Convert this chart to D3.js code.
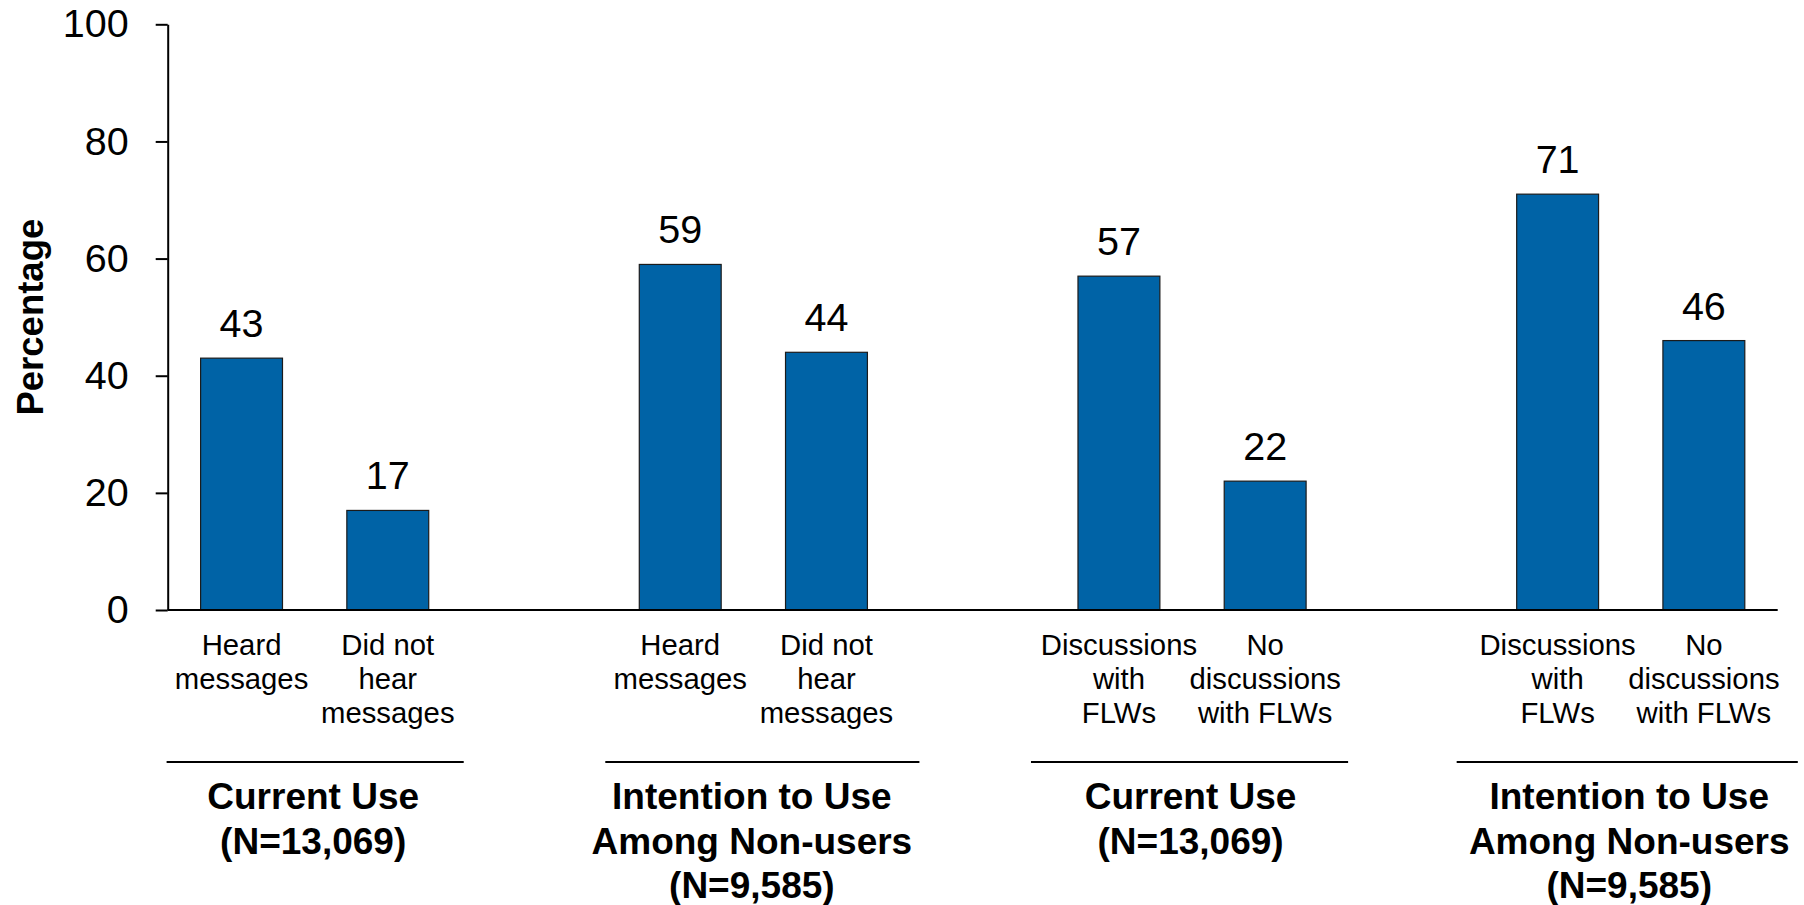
<!DOCTYPE html>
<html>
<head>
<meta charset="utf-8">
<script src="https://cdn.jsdelivr.net/npm/d3@7/dist/d3.min.js"></script>
<style>
  html, body { margin: 0; padding: 0; background: #fff; }
  svg { display: block; font-family: "Liberation Sans", Arial, Helvetica, sans-serif; }
</style>
</head>
<body>
<svg id="chart" width="1804" height="905"></svg>
<script>
// ---- data ----
const categoryLabels = [
  ["Heard", "messages"],
  ["Did not", "hear", "messages"],
  ["Heard", "messages"],
  ["Did not", "hear", "messages"],
  ["Discussions", "with", "FLWs"],
  ["No", "discussions", "with FLWs"],
  ["Discussions", "with", "FLWs"],
  ["No", "discussions", "with FLWs"]
];
const values = [43, 17, 59, 44, 57, 22, 71, 46];
const categoryGroup = [0, 0, 1, 1, 2, 2, 3, 3];
const groupTitles = [
  ["Current Use", "(N=13,069)"],
  ["Intention to Use", "Among Non-users", "(N=9,585)"],
  ["Current Use", "(N=13,069)"],
  ["Intention to Use", "Among Non-users", "(N=9,585)"]
];
const yTicks = [0, 20, 40, 60, 80, 100];
const yTitle = "Percentage";

// ---- layout ----
const plotLeft = 167.7, plotRight = 1777.7, plotTop = 24.3, plotBottom = 610;
const barColor = "#0063a6";
// how far each group's rule reaches past its outer bars (left, right)
const ruleOverhang = [[34, 35], [34, 52], [47, 42], [60, 53]];

const svg = d3.select("#chart");

// slots: two bars per group, with an empty slot between groups
const slots = [];
categoryLabels.forEach((_, i) => {
  if (i > 0 && categoryGroup[i] !== categoryGroup[i - 1]) slots.push("gap" + i);
  slots.push("c" + i);
});

const x = d3.scaleBand()
  .domain(slots)
  .range([plotLeft, plotRight])
  .paddingInner(0.44)
  .paddingOuter(0.225);

const y = d3.scaleLinear().domain([0, 100]).range([plotBottom, plotTop]);

// bars
svg.append("g")
  .selectAll("rect")
  .data(values)
  .join("rect")
  .attr("x", (d, i) => x("c" + i))
  .attr("y", d => y(d))
  .attr("width", x.bandwidth())
  .attr("height", d => y(0) - y(d))
  .attr("fill", barColor)
  .attr("stroke", "#1b1b1b")
  .attr("stroke-width", 1.2);

// value labels
svg.append("g")
  .selectAll("text")
  .data(values)
  .join("text")
  .attr("x", (d, i) => x("c" + i) + x.bandwidth() / 2)
  .attr("y", d => y(d) - 21)
  .attr("text-anchor", "middle")
  .attr("font-size", 39.5)
  .attr("fill", "#000")
  .text(d => d);

// y axis
const yAxis = d3.axisLeft(y)
  .tickValues(yTicks)
  .tickSize(12)
  .tickSizeOuter(0)
  .tickPadding(27)
  .tickFormat(d3.format("d"));

const gy = svg.append("g")
  .attr("transform", `translate(${plotLeft},0)`)
  .call(yAxis);
gy.select(".domain").attr("stroke", "#000").attr("stroke-width", 2);
gy.selectAll(".tick line").attr("stroke", "#000").attr("stroke-width", 2);
gy.selectAll(".tick text")
  .attr("font-size", 39.5)
  .attr("font-family", "Liberation Sans, Arial, sans-serif")
  .attr("fill", "#000");

// baseline
svg.append("line")
  .attr("x1", plotLeft)
  .attr("x2", plotRight)
  .attr("y1", y(0))
  .attr("y2", y(0))
  .attr("stroke", "#000")
  .attr("stroke-width", 2);

// y title
svg.append("text")
  .attr("transform", `translate(43,${(plotTop + plotBottom) / 2}) rotate(-90)`)
  .attr("text-anchor", "middle")
  .attr("font-size", 36.5)
  .attr("font-weight", "bold")
  .attr("fill", "#000")
  .text(yTitle);

// category labels
const catG = svg.append("g")
  .selectAll("text")
  .data(categoryLabels)
  .join("text")
  .attr("text-anchor", "middle")
  .attr("font-size", 29.3)
  .attr("fill", "#000")
  .attr("transform", (d, i) => `translate(${x("c" + i) + x.bandwidth() / 2},655)`);
catG.selectAll("tspan")
  .data(d => d)
  .join("tspan")
  .attr("x", 0)
  .attr("y", (d, j) => j * 33.8)
  .text(d => d);

// group rules and titles
const groupIdx = groupTitles.map((_, g) => categoryGroup
  .map((cg, i) => (cg === g ? i : -1)).filter(i => i >= 0));

const groupG = svg.append("g")
  .selectAll("g")
  .data(groupTitles)
  .join("g");

groupG.append("line")
  .attr("x1", (d, g) => x("c" + groupIdx[g][0]) - ruleOverhang[g][0])
  .attr("x2", (d, g) => x("c" + groupIdx[g][groupIdx[g].length - 1]) + x.bandwidth() + ruleOverhang[g][1])
  .attr("y1", 762)
  .attr("y2", 762)
  .attr("stroke", "#000")
  .attr("stroke-width", 2);

groupG.append("text")
  .attr("text-anchor", "middle")
  .attr("font-size", 37)
  .attr("font-weight", "bold")
  .attr("fill", "#000")
  .attr("transform", (d, g) => {
    const first = x("c" + groupIdx[g][0]) + x.bandwidth() / 2;
    const last = x("c" + groupIdx[g][groupIdx[g].length - 1]) + x.bandwidth() / 2;
    return `translate(${(first + last) / 2 - 1.5},809)`;
  })
  .selectAll("tspan")
  .data(d => d)
  .join("tspan")
  .attr("x", 0)
  .attr("y", (d, j) => j * 44.5)
  .text(d => d);
</script>
</body>
</html>
